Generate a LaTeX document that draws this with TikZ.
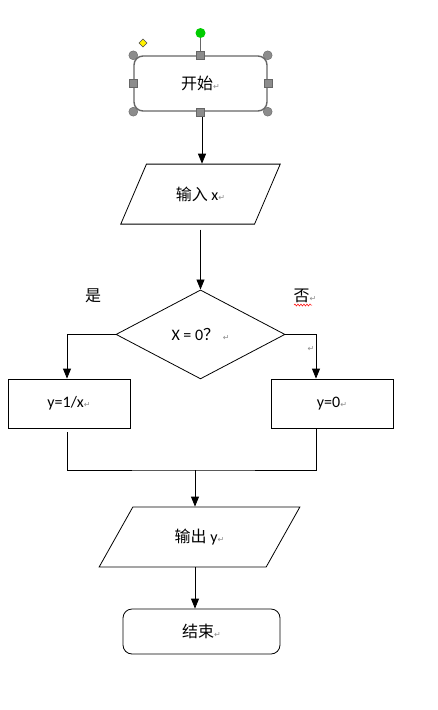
\documentclass[tikz,border=0pt]{standalone}
\usepackage{fontspec}
\setmainfont{Carlito}
\newfontfamily\cjk{Noto Sans CJK SC}
\newfontfamily\symfont{DejaVu Sans}
\usetikzlibrary{arrows.meta, positioning, shapes.geometric, decorations.pathmorphing}
\newcommand{\enter}{{\symfont\fontsize{8}{8}\selectfont\color{black!45}↵}}

\begin{document}
\begin{tikzpicture}[x=1pt, y=-1pt,
                every node/.style={font=\fontsize{16}{18}\selectfont, inner sep=2pt, line width=0.8pt},
                terminal/.style={draw, rounded corners=9pt, minimum width=133pt, minimum height=55pt},
                io/.style={draw, trapezium, trapezium left angle=56, trapezium right angle=124,
                    trapezium stretches=true, minimum height=60pt},
                decision/.style={draw, diamond, minimum width=169pt, minimum height=89pt, inner sep=0pt},
                process/.style={draw, minimum width=122pt, minimum height=49pt},
                arrow/.style={-{Triangle[length=10pt, width=8pt]}, line width=0.8pt},
                line/.style={line width=0.8pt},
                handle/.style={draw=black!60, fill=black!45, line width=0.4pt}
            ]
                \useasboundingbox (0,0) rectangle (438,710);
                \node[terminal, draw=black!60, line width=1.4pt] (start) at (200.5,83.5) {\cjk 开始\enter};
                \node[io, minimum width=160pt] (in) [below=52pt of start] {\cjk 输入 \rmfamily x\enter};
                \node[decision] (dec) [below=65pt of in] {X = 0{\cjk ？}\ \enter};
                \node[process] (yes) at (69,403.5) {y=1/x\enter};
                \node[process] (no)  at (332,403.5) {y=0\enter};
                \coordinate (join) at (195,470);
                \node[io, minimum width=201pt] (out) at (199.5,537) {\cjk 输出 \rmfamily y\enter};
                \node[terminal, minimum width=157pt, minimum height=45pt] (end) at (201.5,631.5) {\cjk 结束\enter};
                % labels of the two branches
                \node (lyes) at (93,296) {\cjk 是};
                \node (lno)  at (305,296) {\cjk 否\enter};
                \node (lpar) at (311,349) {\enter};
                \draw[red, line width=0.5pt, decorate, decoration={snake, amplitude=1pt, segment length=3pt}]
                    (294,305) -- (312,305);
                % flow
                \draw[arrow] ([xshift=1.5pt]start.south) -- ([xshift=1.5pt]start.south |- in.north);
                \draw[arrow, shorten <=5pt] (in.south -| dec.north) -- (dec.north);
                \draw[arrow] (dec.west) -| ([xshift=-2pt]yes.north);
                \draw[arrow] (dec.east) -| ([xshift=-16pt]no.north);
                \draw[line, shorten <=4pt] ([xshift=-2pt]yes.south) |- (join)
                    -| ([xshift=-16pt]no.south);
                \draw[arrow] (join) -- (join |- out.north);
                \draw[arrow] (out.south -| join) -- (join |- end.north);
                % selection handles of the start box
                \draw[black!60, line width=0.6pt] (start.north) -- (200.5,33);
                \fill[green!80!black] (200.5,33) circle (5pt);
                \draw[black!70, fill=yellow, line width=0.4pt] (143,39) -- (147,43) -- (143,47) -- (139,43) -- cycle;
                \foreach \c in {north west, north east, south west, south east}
                    \draw[handle] (start.\c) circle (4.5pt);
                \foreach \c in {north, south, east, west}
                    \draw[handle] ([shift={(-4pt,-4pt)}]start.\c) rectangle ++(8pt,8pt);
            \end{tikzpicture}
\end{document}
